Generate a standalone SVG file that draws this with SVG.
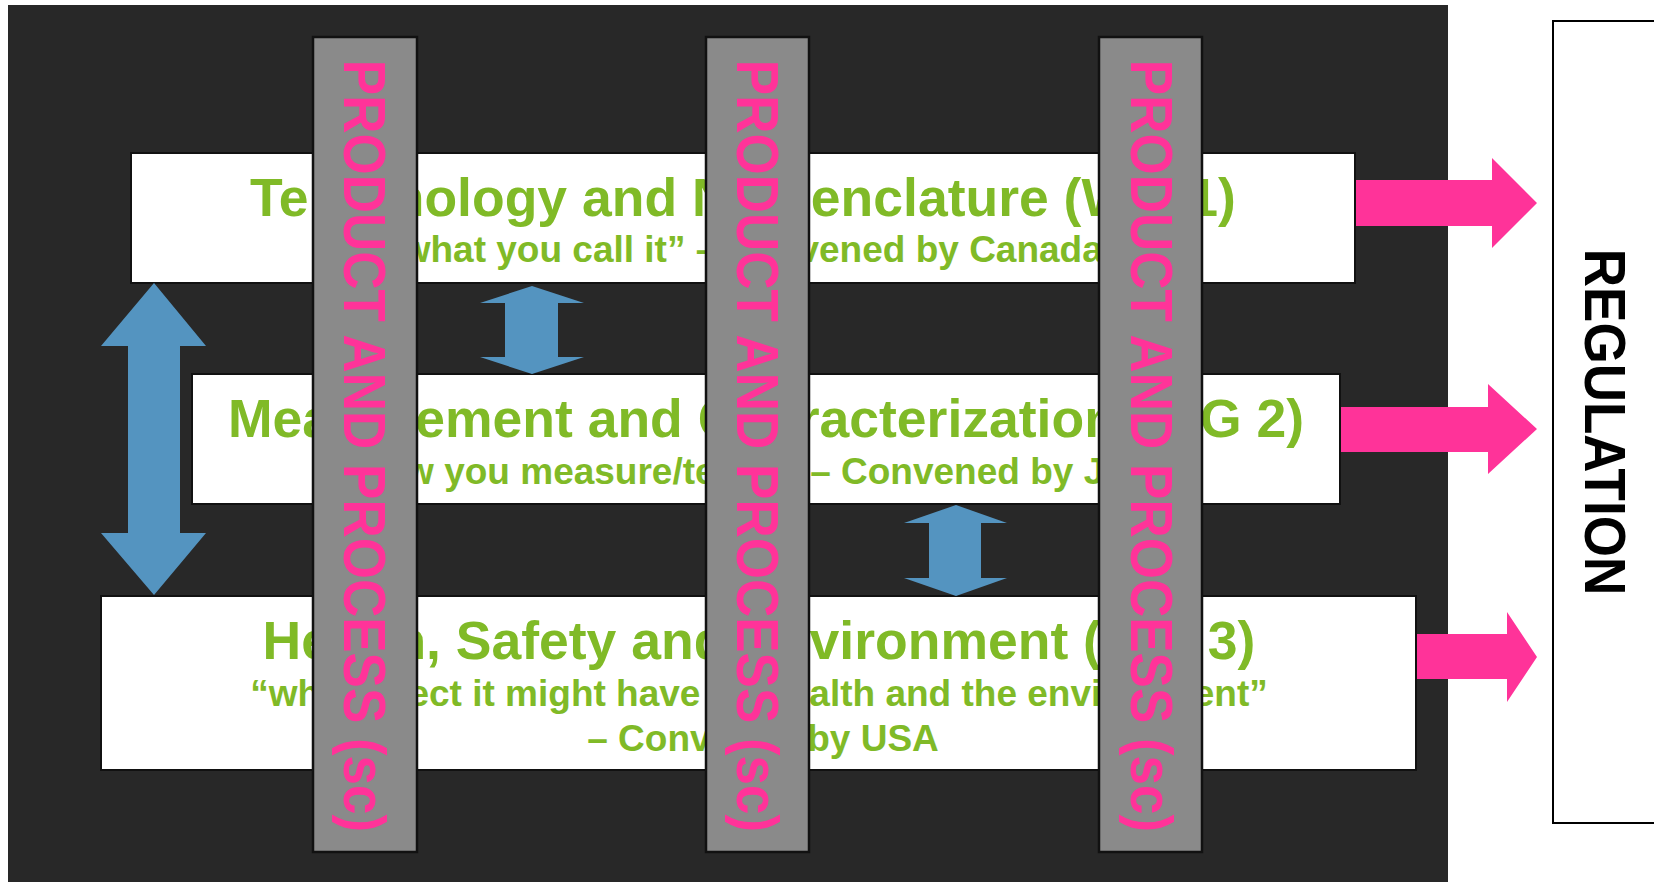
<svg xmlns="http://www.w3.org/2000/svg" width="1654" height="882" viewBox="0 0 1654 882">
<style>
.box{fill:#ffffff;stroke:#111111;stroke-width:2}
.bar{fill:#8a8a8a;stroke:#111111;stroke-width:2.5}
.title{font-family:"Liberation Sans",Arial,sans-serif;font-weight:bold;font-size:53.5px;fill:#80BA27;text-anchor:middle}
.sub{font-family:"Liberation Sans",Arial,sans-serif;font-weight:bold;font-size:37px;fill:#80BA27;text-anchor:middle}
.vert{font-family:"Liberation Sans",Arial,sans-serif;font-weight:bold;font-size:53px;fill:#FF3399;text-anchor:middle}
.reg{font-family:"Liberation Sans",Arial,sans-serif;font-weight:bold;font-size:53px;fill:#000000;text-anchor:middle}
.blue{fill:#5494C0}
.pink{fill:#FF3399}
</style>
<rect x="0" y="0" width="1654" height="882" fill="#ffffff"/>
<rect id="background" x="8" y="5" width="1440" height="880" fill="#282828"/>

<g id="wg1">
<rect class="box" x="131" y="153" width="1224" height="130"/>
<text class="title" x="743" y="216">Terminology and Nomenclature (WG 1)</text>
<text class="sub" x="743" y="262">“what you call it” – Convened by Canada</text>
</g>

<g id="wg2">
<rect class="box" x="192" y="374" width="1148" height="130"/>
<text class="title" x="766" y="437">Measurement and Characterization (WG 2)</text>
<text class="sub" x="766" y="484">“how you measure/test it” – Convened by Japan</text>
</g>

<g id="wg3">
<rect class="box" x="101" y="596" width="1315" height="174"/>
<text class="title" x="759" y="659">Health, Safety and Environment (WG 3)</text>
<text class="sub" x="759" y="706">“what effect it might have on health and the environment”</text>
<text class="sub" x="763" y="751">– Convened by USA</text>
</g>

<g id="connectors">
<polygon class="blue" points="154,283 206,346 180,346 180,533 206,533 154,595 101,533 128,533 128,346 101,346"/>
<polygon class="blue" points="532,286 584,303 558,303 558,357 584,357 532,374 480,357 505,357 505,303 480,303"/>
<polygon class="blue" points="956,505 1007,523 981,523 981,578 1007,578 956,596 904,578 929,578 929,523 904,523"/>
<polygon class="pink" points="1356,180 1492,180 1492,158 1537,203 1492,248 1492,226 1356,226"/>
<polygon class="pink" points="1341,407 1488,407 1488,384 1537,429 1488,474 1488,452 1341,452"/>
<polygon class="pink" points="1417,634 1507,634 1507,612 1537,657 1507,702 1507,679 1417,679"/>
</g>

<g id="bar1">
<rect class="bar" x="313" y="37" width="104" height="815"/>
<text class="vert" transform="translate(344,446) rotate(90) scale(1,1.1)">PRODUCT AND PROCESS (sc)</text>
</g>
<g id="bar2">
<rect class="bar" x="706" y="37" width="103" height="815"/>
<text class="vert" transform="translate(737,446) rotate(90) scale(1,1.1)">PRODUCT AND PROCESS (sc)</text>
</g>
<g id="bar3">
<rect class="bar" x="1099" y="37" width="103" height="815"/>
<text class="vert" transform="translate(1131,446) rotate(90) scale(1,1.1)">PRODUCT AND PROCESS (sc)</text>
</g>

<g id="regulation">
<rect x="1553" y="21" width="120" height="802" fill="#ffffff" stroke="#000000" stroke-width="2"/>
<text class="reg" transform="translate(1585,422) rotate(90) scale(1,1.08)">REGULATION</text>
</g>
</svg>
